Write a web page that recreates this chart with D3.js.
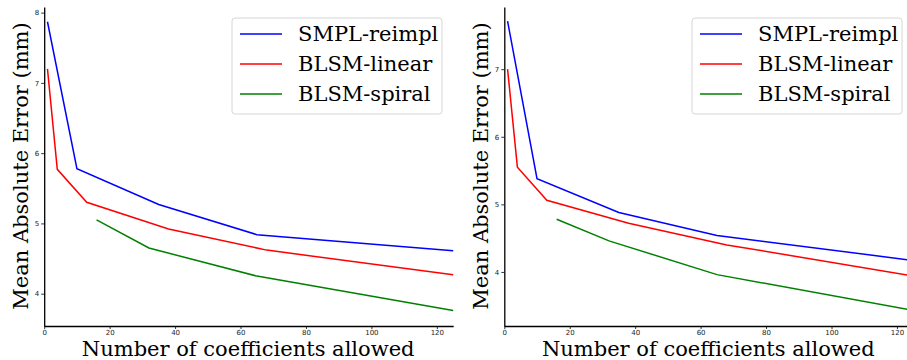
<!DOCTYPE html>
<html lang="en">
<head>
<meta charset="UTF-8">
<script src="https://cdn.jsdelivr.net/npm/d3@7"></script>
<style>
  body { margin: 0; background: #fff; }
  svg { display: block; }
  .tick text { font-family: "DejaVu Sans", sans-serif; font-size: 7px; fill: #222; }
  .lbl { font-family: "DejaVu Serif", serif; font-size: 21px; fill: #000; }
</style>
</head>
<body>
<div id="chart"></div>
<script>
// series names + colours
var seriesNames = ["SMPL-reimpl", "BLSM-linear", "BLSM-spiral"];
var seriesColors = ["blue", "red", "green"];

// left panel
var leftSmplX = [1, 10, 35, 65, 125];
var leftSmplY = [7.87, 5.78, 5.27, 4.84, 4.61];
var leftLinX = [1, 4, 13, 38, 68, 125];
var leftLinY = [7.2, 5.77, 5.30, 4.92, 4.62, 4.27];
var leftSpiX = [16, 32, 65, 125];
var leftSpiY = [5.05, 4.65, 4.25, 3.76];

// right panel
var rightSmplX = [1, 10, 35, 65, 125];
var rightSmplY = [7.71, 5.38, 4.88, 4.54, 4.17];
var rightLinX = [1, 4, 13, 38, 68, 125];
var rightLinY = [7.0, 5.55, 5.06, 4.72, 4.40, 3.94];
var rightSpiX = [16, 32, 65, 125];
var rightSpiY = [4.78, 4.46, 3.96, 3.43];

var xTicks = [0, 20, 40, 60, 80, 100, 120];
var leftYTicks = [4, 5, 6, 7, 8];
var rightYTicks = [4, 5, 6, 7];

var W = 907, H = 360;
var svg = d3.select("#chart").append("svg").attr("width", W).attr("height", H);

function zip(xs, ys) { return xs.map(function(x, i){ return [x, ys[i]]; }); }

function drawPanel(p) {
    var x = d3.scaleLinear().domain([0, 125]).range([p.left, p.left + 409]);
    var y = d3.scaleLinear().domain(p.yDomain).range([326, 7]);
    var g = svg.append("g");

    var line = d3.line().x(function(d){ return x(d[0]); }).y(function(d){ return y(d[1]); });
    p.series.forEach(function(s, i) {
        g.append("path").datum(s)
            .attr("fill", "none")
            .attr("stroke", seriesColors[i])
            .attr("stroke-width", 1.5)
            .attr("d", line);
    });

    // axes (left + bottom spines only)
    var xa = g.append("g").attr("transform", "translate(0,326)")
        .call(d3.axisBottom(x).tickValues(xTicks).tickFormat(d3.format("d"))
            .tickSize(3).tickPadding(1).tickSizeOuter(0));
    var ya = g.append("g").attr("transform", "translate(" + p.left + ",0)")
        .call(d3.axisLeft(y).tickValues(p.yTicks).tickFormat(d3.format("d"))
            .tickSize(3).tickPadding(2).tickSizeOuter(0));
    [xa, ya].forEach(function(a){
        a.select(".domain").attr("stroke", "#000").attr("stroke-width", 1.3);
        a.selectAll(".tick line").attr("stroke", "#000").attr("stroke-width", 0.8);
    });

    g.append("text").attr("class", "lbl")
        .attr("x", p.left + 204).attr("y", 356)
        .attr("text-anchor", "middle")
        .text("Number of coefficients allowed");
    g.append("text").attr("class", "lbl")
        .attr("transform", "translate(" + (p.left - 16) + ",166) rotate(-90)")
        .attr("text-anchor", "middle")
        .text("Mean Absolute Error (mm)");

    // legend
    var lg = g.append("g").attr("transform", "translate(" + p.legX + ",18)");
    lg.append("rect").attr("width", 210).attr("height", 96).attr("rx", 3)
        .attr("fill", "#fff").attr("fill-opacity", 0.8)
        .attr("stroke", "#d6d6d6").attr("stroke-width", 1);
    seriesNames.forEach(function(n, i) {
        var yy = 16 + i * 30;
        lg.append("line").attr("x1", 8).attr("x2", 50).attr("y1", yy).attr("y2", yy)
            .attr("stroke", seriesColors[i]).attr("stroke-width", 1.5);
        lg.append("text").attr("class", "lbl").attr("x", 66).attr("y", yy + 7).text(n);
    });
}

drawPanel({
    left: 44.2, yDomain: [3.54, 8.08], yTicks: leftYTicks, legX: 232,
    series: [zip(leftSmplX, leftSmplY), zip(leftLinX, leftLinY), zip(leftSpiX, leftSpiY)]
});
drawPanel({
    left: 504.3, yDomain: [3.20, 7.92], yTicks: rightYTicks, legX: 692,
    series: [zip(rightSmplX, rightSmplY), zip(rightLinX, rightLinY), zip(rightSpiX, rightSpiY)]
});
</script>
</body>
</html>
